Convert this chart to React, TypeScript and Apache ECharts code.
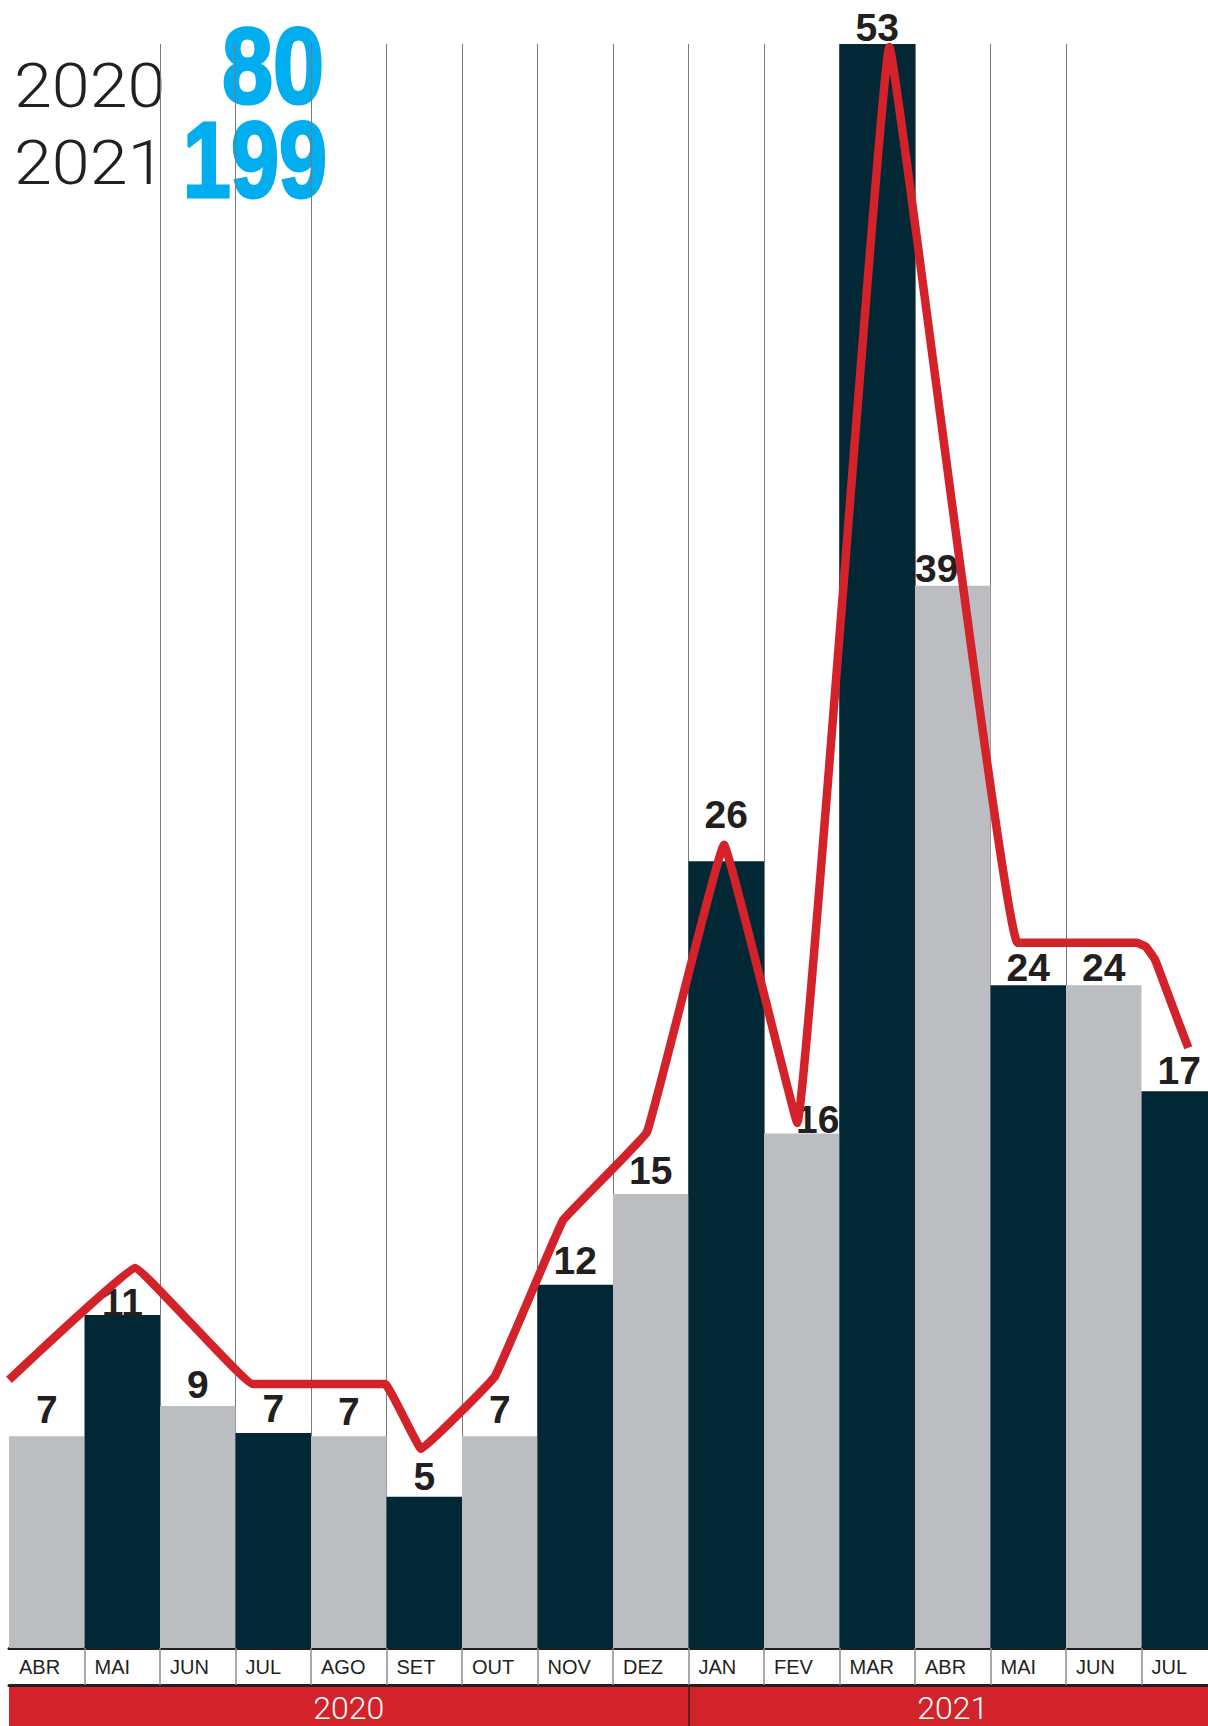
import React, { useEffect, useRef } from "react";
import * as echarts from "echarts";

// ---- data ----
const months = ["ABR", "MAI", "JUN", "JUL", "AGO", "SET", "OUT", "NOV", "DEZ", "JAN", "FEV", "MAR", "ABR", "MAI", "JUN", "JUL"];
// printed monthly counts (labels on top of bars)
const countLabels = [7, 11, 9, 7, 7, 5, 7, 12, 15, 26, 16, 53, 39, 24, 24, 17];
// bar heights as drawn in the reference graphic (the artwork is not exactly to scale)
const barHeights = [7, 11, 8, 7.1, 7, 5, 7, 12, 15, 26, 17, 53, 35.1, 21.9, 21.9, 18.4];
const years = ["2020", "2021"];
const yearTotals = [80, 199];
const yearStartIndex = [0, 9];
// trend line: x in month-column units (0..16), y in cases
const trendX = [0, 1.67, 3.23, 4.98, 5.46, 6.44, 7.34, 8.45, 9.47, 10.44, 11.66, 13.36, 14.94, 15.06, 15.18, 15.38, 15.62];
const trendY = [8.86, 12.56, 8.72, 8.72, 6.58, 8.99, 14.14, 17.05, 26.54, 17.35, 52.9, 23.3, 23.3, 23.17, 22.74, 21.41, 19.83];

// ---- styles ----
const GRAY = "#bcbdc0";
const DARK = "#022836";
const RED = "#d2232a";
const BLUE = "#00aeef";
const INK = "#231f20";
const labelTweaks: Record<number, { distance?: number; dx?: number }> = {
  0: { distance: 7 },
  1: { distance: -7 },
  2: { distance: 2 },
  5: { distance: 1 },
  6: { distance: 7 },
  8: { distance: 4 },
  9: { distance: 27 },
  10: { distance: -5, dx: 16 },
  11: { distance: -3 },
  12: { distance: -2, dx: -16 },
  13: { distance: -2 },
  14: { distance: -2 },
  15: { distance: 1 },
};

const GRID_LEFT = 9;
const GRID_TOP = 44;
const COL_W = 75.5;
const GRID_H = 1604;
const CANVAS_W = 1218;

export default function App() {
  const ref = useRef<HTMLDivElement>(null);
  useEffect(() => {
    if (!ref.current) return;
    const chart = echarts.init(ref.current, undefined, { renderer: "svg" });
    const n = months.length;
    const yearEnds = [...yearStartIndex.slice(1), n];
    const yearCenters = yearStartIndex.map((s, i) => (s + yearEnds[i]) / 2);
    const monthTicks = months.map((_, i) => i);
    const seps = months.map((_, i) => i).filter((i) => i > 0);
    const lightFont = "Roboto, 'Liberation Sans', sans-serif";
    const boldFont = "'Liberation Sans', Arial, sans-serif";

    const option: any = {
      animation: false,
      grid: { left: GRID_LEFT, top: GRID_TOP, width: COL_W * n, height: GRID_H, containLabel: false },
      xAxis: [
        {
          type: "category",
          data: months.map((m, i) => m + "-" + i),
          show: false,
          position: "top",
          boundaryGap: true,
        },
        {
          type: "value",
          min: 0,
          max: n,
          interval: 1,
          position: "bottom",
          axisLine: { show: true, onZero: false, lineStyle: { color: INK, width: 3 } },
          axisTick: { show: true, customValues: seps, length: 37, lineStyle: { color: "#8c8c8c", width: 1.5 } },
          axisLabel: {
            customValues: monthTicks,
            formatter: (v: number) => months[Math.round(v)] ?? "",
            align: "left",
            padding: [0, 0, 0, 10],
            margin: 9,
            fontSize: 20,
            color: INK,
            fontFamily: boldFont,
          },
          splitLine: { show: true, showMinLine: false, showMaxLine: false, lineStyle: { color: "#7a7a7a", width: 1 } },
        },
        {
          type: "value",
          min: 0,
          max: n,
          interval: 0.5,
          position: "bottom",
          offset: 37,
          axisLine: { show: true, onZero: false, lineStyle: { color: INK, width: 3 } },
          axisTick: { show: true, customValues: [yearStartIndex[1]], length: 41, lineStyle: { color: "#3a1a1a", width: 1.5 } },
          axisLabel: {
            customValues: yearCenters,
            formatter: (v: number) => {
              const k = yearCenters.findIndex((c) => Math.abs(c - v) < 0.01);
              return k >= 0 ? years[k] : "";
            },
            margin: 7,
            fontSize: 32,
            fontWeight: 300,
            color: "#ffffff",
            fontFamily: lightFont,
          },
          splitLine: { show: false },
        },
      ],
      yAxis: { type: "value", min: 0, max: 53, show: false },
      series: [
        {
          type: "bar",
          xAxisIndex: 0,
          yAxisIndex: 0,
          barWidth: "100%",
          silent: true,
          itemStyle: { color: (p: any) => (p.dataIndex % 2 ? DARK : GRAY) },
          label: {
            show: true,
            position: "top",
            fontSize: 39,
            fontWeight: "bold",
            color: INK,
            fontFamily: boldFont,
            formatter: (p: any) => String(countLabels[p.dataIndex]),
          },
          data: barHeights.map((v, i) => {
            const t = labelTweaks[i] || {};
            return { value: v, label: { distance: t.distance ?? 5, offset: [t.dx ?? 0, 0] } };
          }),
          z: 2,
        },
        {
          type: "line",
          xAxisIndex: 1,
          yAxisIndex: 0,
          data: trendX.map((x, i) => [x, trendY[i]]),
          showSymbol: false,
          symbol: "none",
          smooth: 0.06,
          clip: false,
          silent: true,
          lineStyle: { color: "#d3222a", width: 8.5, cap: "butt", join: "round" },
          z: 10,
        },
      ],
      graphic: {
        elements: [
          { type: "rect", z: -1, silent: true, shape: { x: GRID_LEFT, y: 1685, width: CANVAS_W - GRID_LEFT, height: 41 }, style: { fill: RED } },
          {
            type: "text", x: 14, y: 86, scaleX: 1.1, silent: true,
            style: { text: years[0], fontSize: 62, fontWeight: 300, fontFamily: lightFont, fill: INK, align: "left", verticalAlign: "middle" },
          },
          {
            type: "text", x: 14, y: 163, scaleX: 1.1, silent: true,
            style: { text: years[1], fontSize: 62, fontWeight: 300, fontFamily: lightFont, fill: INK, align: "left", verticalAlign: "middle" },
          },
          {
            type: "text", x: 324, y: 65, scaleX: 0.85, silent: true,
            style: { text: String(yearTotals[0]), fontSize: 108, fontWeight: "bold", fontFamily: boldFont, fill: BLUE, stroke: BLUE, lineWidth: 3, align: "right", verticalAlign: "middle" },
          },
          {
            type: "text", x: 327, y: 159, scaleX: 0.8, silent: true,
            style: { text: String(yearTotals[1]), fontSize: 108, fontWeight: "bold", fontFamily: boldFont, fill: BLUE, stroke: BLUE, lineWidth: 3, align: "right", verticalAlign: "middle" },
          },
        ],
      },
    };
    chart.setOption(option);
    return () => chart.dispose();
  }, []);
  return (
    <div style={{ position: "absolute", left: 0, top: 0, width: 1208, height: 1726, overflow: "hidden", background: "#ffffff" }}>
      <div ref={ref} style={{ width: CANVAS_W, height: 1726 }} />
    </div>
  );
}
